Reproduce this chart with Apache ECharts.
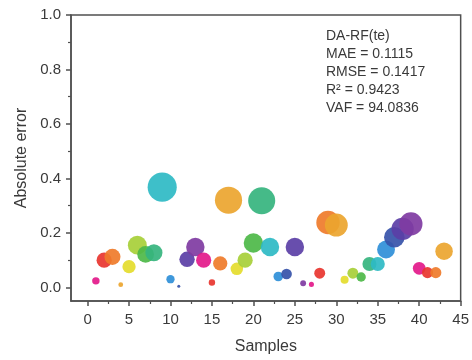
<!DOCTYPE html>
<html>
<head>
<meta charset="utf-8">
<script src="https://cdn.jsdelivr.net/npm/echarts@6/dist/echarts.min.js"></script>
<style>
html,body{margin:0;padding:0;background:#fff;}
#c{width:472px;height:360px;}
</style>
</head>
<body>
<div id="c"></div>
<script>
var samples = [1,2,3,4,5,6,7,8,9,10,11,12,13,14,15,16,17,18,19,20,21,22,23,24,25,26,27,28,29,30,31,32,33,34,35,36,37,38,39,40,41,42,43];
var errors = [0.024,0.100,0.112,0.010,0.076,0.155,0.121,0.127,0.368,0.030,0.004,0.103,0.148,0.100,0.018,0.088,0.320,0.068,0.100,0.163,0.318,0.148,0.040,0.049,0.148,0.015,0.011,0.052,0.238,0.229,0.028,0.052,0.038,0.086,0.086,0.139,0.184,0.215,0.233,0.070,0.054,0.054,0.133];
var xTicks = [0,5,10,15,20,25,30,35,40,45];
var xMinorTicks = [2.5,7.5,12.5,17.5,22.5,27.5,32.5,37.5,42.5];
var yTicks = [0,0.2,0.4,0.6,0.8,1.0];
var yMinorTicks = [0.1,0.3,0.5,0.7,0.9];
var statLines = ['DA-RF(te)','MAE = 0.1115','RMSE = 0.1417','R\u00b2 = 0.9423','VAF = 94.0836'];
var palette = ['#e3198a','#e8352f','#ef7b2a','#eba52f','#e4dc2c','#a7cf38','#4db848','#35b47e','#2ebac4','#2f8fd8','#3653a9','#5b3fa6','#7f3ba2'];

var FONT = '"Liberation Sans", Arial, sans-serif';
var axisColor = '#505050';
var textColor = '#3a3a3a';
var chart = echarts.init(document.getElementById('c'));
var data = samples.map(function(s,i){ return [s, errors[i]]; });
var commonX = {type:'value', min:-2, max:45, gridIndex:0};
var commonY = {type:'value', min:-0.05, max:1.0, gridIndex:0};
chart.setOption({
  animation:false,
  backgroundColor:'#fff',
  grid:{left:71, right:9, top:15, bottom:55, show:true, borderColor:axisColor, borderWidth:1.5, backgroundColor:'transparent'},
  xAxis:[
    Object.assign({}, commonX, {
      position:'bottom',
      name:'Samples', nameLocation:'middle', nameGap:38,
      nameTextStyle:{fontFamily:FONT, fontSize:16, color:textColor},
      axisLine:{show:true, onZero:false, lineStyle:{color:axisColor, width:1.5}},
      axisTick:{show:true, inside:false, length:5, customValues:xTicks, lineStyle:{color:axisColor, width:1.5}},
      axisLabel:{show:true, customValues:xTicks, margin:11, fontFamily:FONT, fontSize:15, color:textColor},
      splitLine:{show:false}
    }),
    Object.assign({}, commonX, {
      position:'bottom',
      axisLine:{show:false, onZero:false},
      axisTick:{show:true, inside:false, length:3, customValues:xMinorTicks, lineStyle:{color:axisColor, width:1.2}},
      axisLabel:{show:false},
      splitLine:{show:false}
    })
  ],
  yAxis:[
    Object.assign({}, commonY, {
      position:'left',
      name:'Absolute error', nameLocation:'middle', nameGap:41, nameRotate:90,
      nameTextStyle:{fontFamily:FONT, fontSize:16, color:textColor},
      axisLine:{show:true, onZero:false, lineStyle:{color:axisColor, width:1.5}},
      axisTick:{show:true, inside:false, length:5, customValues:yTicks, lineStyle:{color:axisColor, width:1.5}},
      axisLabel:{show:true, customValues:yTicks, margin:10, fontFamily:FONT, fontSize:15, color:textColor,
        formatter:function(v){ return Number(v).toFixed(1); }},
      splitLine:{show:false}
    }),
    Object.assign({}, commonY, {
      position:'left',
      axisLine:{show:false, onZero:false},
      axisTick:{show:true, inside:false, length:3, customValues:yMinorTicks, lineStyle:{color:axisColor, width:1.2}},
      axisLabel:{show:false},
      splitLine:{show:false}
    })
  ],
  series:[{
    type:'scatter',
    xAxisIndex:0, yAxisIndex:0,
    data:data,
    symbol:'circle',
    symbolSize:function(d){ return 48*Math.sqrt(Math.max(d[1],0)); },
    itemStyle:{
      opacity:0.92,
      color:function(p){ return palette[(samples[p.dataIndex]-1)%palette.length]; }
    },
    emphasis:{disabled:true}
  }],
  graphic:[{
    type:'text', left:326, top:27,
    style:{text:statLines.join('\n'), font:'14px '+FONT, fill:textColor, lineHeight:18}
  }]
});
</script>
</body>
</html>
